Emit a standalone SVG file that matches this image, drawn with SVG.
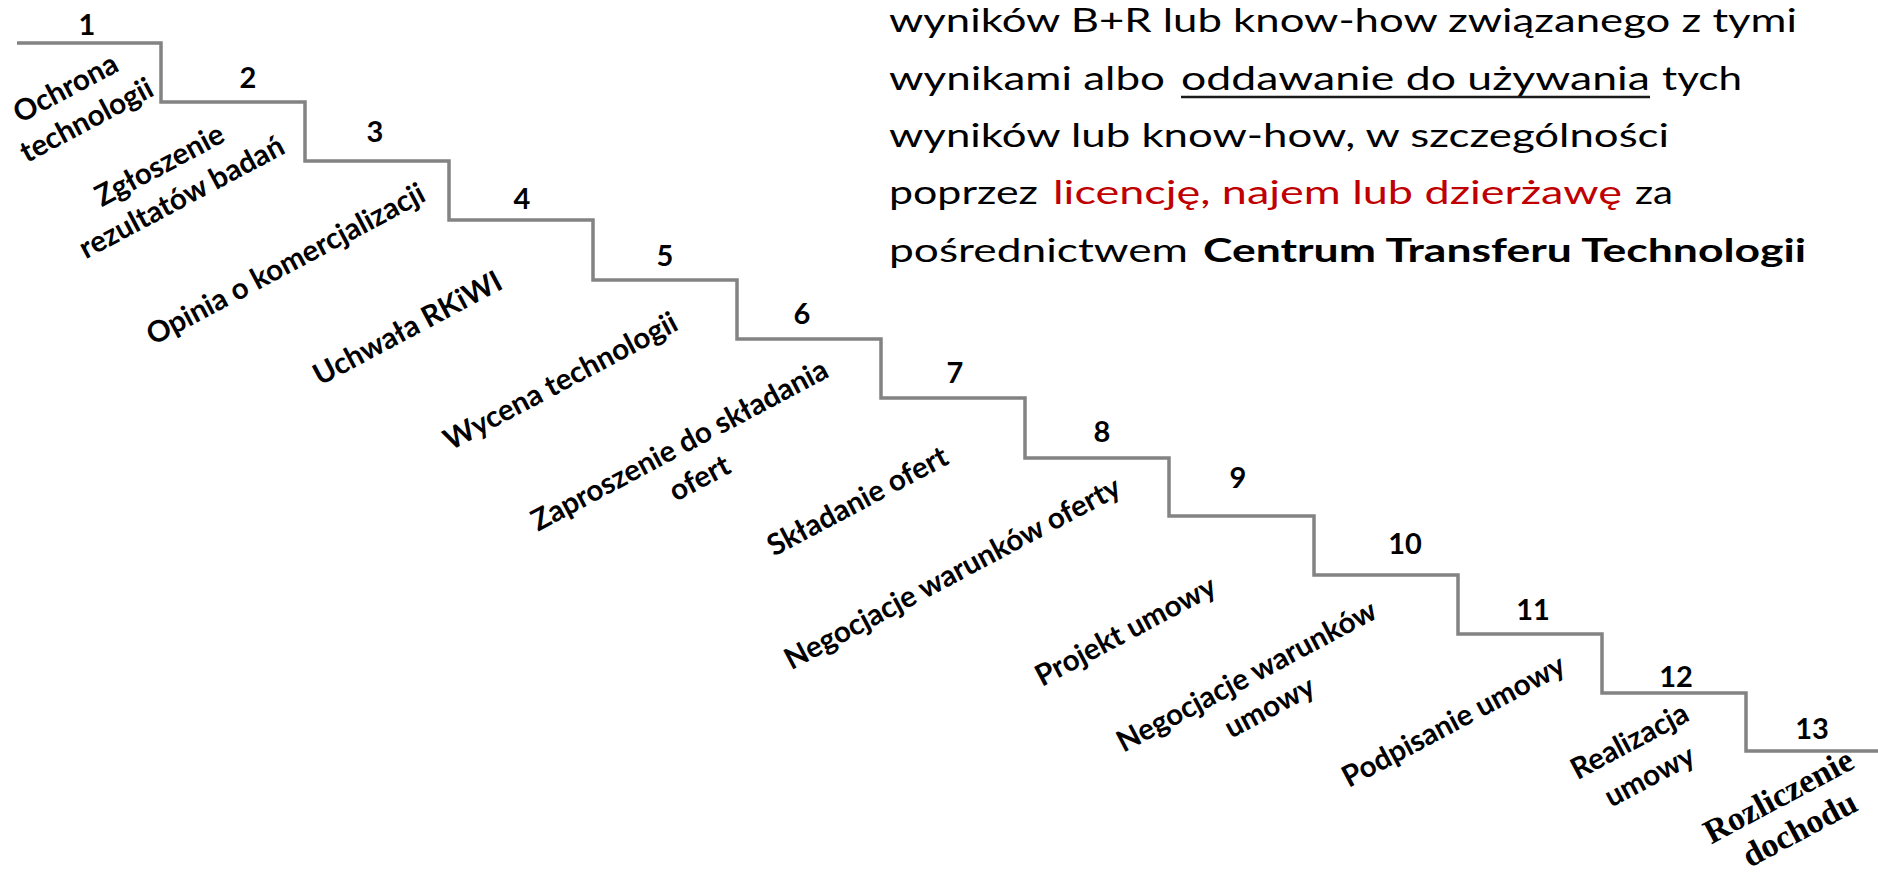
<svg xmlns="http://www.w3.org/2000/svg" width="1878" height="872" viewBox="0 0 1878 872">
  <style>
    .stair { fill: none; stroke: #838383; stroke-width: 3.5; stroke-linejoin: miter; }
    .num { font-family: Lato, "Liberation Sans", sans-serif; font-weight: 700; font-size: 29px; fill: #000; text-anchor: middle; }
    .lbl { font-family: Lato, "Liberation Sans", sans-serif; font-weight: 700; font-size: 29.5px; fill: #000; text-anchor: middle; }
    .lbl-serif { font-family: "Liberation Serif", "DejaVu Serif", serif; font-weight: 700; font-size: 34px; fill: #000; text-anchor: middle; }
    .para { font-family: Lato, "Liberation Sans", sans-serif; font-size: 33px; fill: #000; }
    .red { fill: #c00000; }
    .bold { font-weight: 700; }
  </style>
  <rect width="1878" height="872" fill="#ffffff"/>

  <!-- staircase outline: 13 treads, each 144 wide and 59 lower than the last -->
  <g id="connectors">
    <path class="stair" d="M17,43 H161 V102 H305 V161 H449 V220 H593 V280 H737 V339 H881 V398 H1025 V458 H1169 V516 H1314 V575 H1458 V634 H1602 V693 H1746 V751 H1878"/>
  </g>

  <!-- steps: number on the tread, rotated caption below it -->
  <g id="step1">
    <text class="num" x="87" y="35">1</text>
    <text class="lbl" transform="translate(66,89) rotate(-28)" y="9">Ochrona</text>
    <text class="lbl" transform="translate(87,121) rotate(-28)" y="9">technologii</text>
  </g>
  <g id="step2">
    <text class="num" x="248" y="88">2</text>
    <text class="lbl" transform="translate(160,166) rotate(-28)" y="9">Zgłoszenie</text>
    <text class="lbl" transform="translate(182,198) rotate(-28)" y="9">rezultatów badań</text>
  </g>
  <g id="step3">
    <text class="num" x="375" y="142">3</text>
    <text class="lbl" transform="translate(286,265) rotate(-28)" y="9">Opinia o komercjalizacji</text>
  </g>
  <g id="step4">
    <text class="num" x="522" y="209">4</text>
    <text class="lbl" transform="translate(408,329) rotate(-28)" y="9">Uchwała RKiWI</text>
  </g>
  <g id="step5">
    <text class="num" x="665" y="266">5</text>
    <text class="lbl" transform="translate(561,382) rotate(-28)" y="9">Wycena technologii</text>
  </g>
  <g id="step6">
    <text class="num" x="802" y="324">6</text>
    <text class="lbl" transform="translate(680,446) rotate(-28)" y="9">Zaproszenie do składania</text>
    <text class="lbl" transform="translate(700,479) rotate(-28)" y="9">ofert</text>
  </g>
  <g id="step7">
    <text class="num" x="955" y="383">7</text>
    <text class="lbl" transform="translate(858,502) rotate(-28)" y="9">Składanie ofert</text>
  </g>
  <g id="step8">
    <text class="num" x="1102" y="442">8</text>
    <text class="lbl" transform="translate(953,574) rotate(-28)" y="9">Negocjacje warunków oferty</text>
  </g>
  <g id="step9">
    <text class="num" x="1238" y="488">9</text>
    <text class="lbl" transform="translate(1126,632) rotate(-28)" y="9">Projekt umowy</text>
  </g>
  <g id="step10">
    <text class="num" x="1405" y="554">10</text>
    <text class="lbl" transform="translate(1247,677) rotate(-28)" y="9">Negocjacje warunków</text>
    <text class="lbl" transform="translate(1270,708) rotate(-28)" y="9">umowy</text>
  </g>
  <g id="step11">
    <text class="num" x="1533" y="620">11</text>
    <text class="lbl" transform="translate(1454,722) rotate(-28)" y="9">Podpisanie umowy</text>
  </g>
  <g id="step12">
    <text class="num" x="1676" y="687">12</text>
    <text class="lbl" transform="translate(1630,742) rotate(-28)" y="9">Realizacja</text>
    <text class="lbl" transform="translate(1650,777) rotate(-28)" y="9">umowy</text>
  </g>
  <g id="step13">
    <text class="num" x="1812" y="739">13</text>
    <text class="lbl-serif" transform="translate(1779,797) rotate(-28)" y="10">Rozliczenie</text>
    <text class="lbl-serif" transform="translate(1800,830) rotate(-28)" y="10">dochodu</text>
  </g>

  <!-- definition paragraph, top right -->
  <g id="definition">
    <text class="para" x="889" y="32" textLength="908" lengthAdjust="spacingAndGlyphs">wyników B+R lub know-how związanego z tymi</text>
    <text class="para" x="889" y="90" textLength="276" lengthAdjust="spacingAndGlyphs">wynikami albo</text>
    <text class="para" x="1181" y="90" textLength="469" lengthAdjust="spacingAndGlyphs">oddawanie do używania</text>
    <line x1="1181" y1="97" x2="1650" y2="97" stroke="#1a1a1a" stroke-width="2.5"/>
    <text class="para" x="1662" y="90" textLength="80" lengthAdjust="spacingAndGlyphs">tych</text>
    <text class="para" x="889" y="147" textLength="780" lengthAdjust="spacingAndGlyphs">wyników lub know-how, w szczególności</text>
    <text class="para" x="889" y="204" textLength="149" lengthAdjust="spacingAndGlyphs">poprzez</text>
    <text class="para red" x="1053" y="204" textLength="569" lengthAdjust="spacingAndGlyphs">licencję, najem lub dzierżawę</text>
    <text class="para" x="1635" y="204" textLength="38" lengthAdjust="spacingAndGlyphs">za</text>
    <text class="para" x="889" y="262" textLength="299" lengthAdjust="spacingAndGlyphs">pośrednictwem</text>
    <text class="para bold" x="1203" y="262" textLength="603" lengthAdjust="spacingAndGlyphs">Centrum Transferu Technologii</text>
  </g>
</svg>
